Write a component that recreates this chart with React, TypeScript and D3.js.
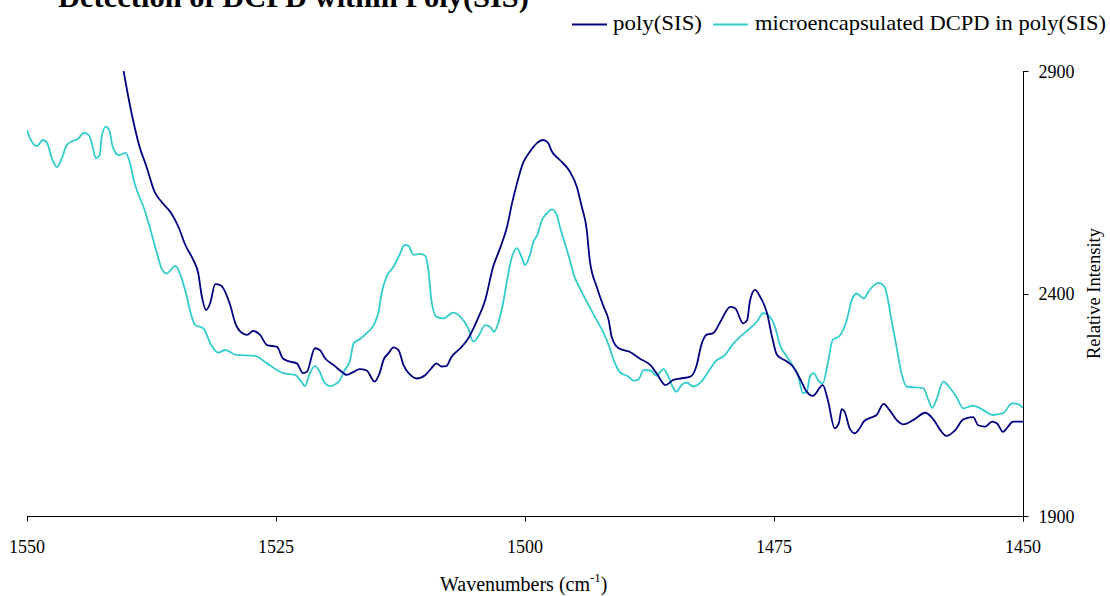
import React from "react";
import * as d3 from "d3";

const titleText = "Detection of DCPD within Poly(SIS)";
const seriesNames = ["poly(SIS)", "microencapsulated DCPD in poly(SIS)"];
const seriesColors = ["#000080", "#33CCCC"];
const xTicks = [1550, 1525, 1500, 1475, 1450];
const yTicks = [1900, 2400, 2900];

// poly(SIS)
const polyWave = [
  1540.3, 1539.7, 1538.7, 1538.0, 1537.2, 1536.5, 1535.5, 1534.8, 1534.1, 1533.3,
  1532.8, 1532.5, 1532.0, 1531.6, 1531.1, 1530.6, 1529.6, 1529.1, 1528.4, 1527.9,
  1527.3, 1526.6, 1525.9, 1524.9, 1524.3, 1523.6, 1522.9, 1522.3, 1521.9, 1521.1,
  1520.6, 1520.1, 1519.2, 1518.4, 1517.9, 1517.2, 1516.6, 1515.9, 1515.1, 1514.6,
  1514.2, 1513.7, 1513.2, 1512.7, 1512.2, 1511.5, 1510.9, 1510.0, 1509.4, 1508.9,
  1508.4, 1507.9, 1507.4, 1506.5, 1505.7, 1504.8, 1504.0, 1503.2, 1502.5, 1501.8,
  1501.3, 1500.8, 1500.2, 1499.5, 1498.8, 1498.2, 1497.7, 1497.3, 1496.5, 1495.5,
  1494.8, 1494.3, 1493.8, 1493.5, 1492.8, 1492.1, 1491.6, 1491.3, 1490.6, 1489.5,
  1488.5, 1487.4, 1486.8, 1485.9, 1485.1, 1484.4, 1483.4, 1482.8, 1482.3, 1481.8,
  1481.1, 1480.3, 1479.4, 1478.9, 1478.1, 1477.7, 1477.4, 1476.9, 1476.4, 1475.7,
  1475.2, 1474.7, 1473.7, 1473.1, 1472.4, 1471.7, 1471.1, 1470.1, 1469.6, 1468.9,
  1468.5, 1468.2, 1467.9, 1467.4, 1466.9, 1466.4, 1466.0, 1465.4, 1464.7, 1464.0,
  1463.4, 1462.7, 1462.0, 1461.0, 1459.8, 1459.0, 1458.3, 1457.7, 1456.8, 1456.0,
  1455.0, 1454.5, 1453.8, 1453.1, 1452.6, 1452.0, 1451.5, 1451.0, 1450.0,
];
const polyIntensity = [
  2900, 2827, 2730, 2685, 2629, 2606, 2580, 2550, 2509, 2475,
  2445, 2400, 2363, 2379, 2421, 2419, 2374, 2334, 2311, 2307,
  2316, 2307, 2284, 2280, 2254, 2247, 2243, 2221, 2224, 2277,
  2273, 2255, 2239, 2224, 2217, 2224, 2230, 2227, 2202, 2221,
  2251, 2266, 2279, 2273, 2239, 2217, 2209, 2217, 2232, 2243,
  2236, 2237, 2257, 2277, 2299, 2340, 2385, 2460, 2502, 2550,
  2603, 2648, 2693, 2719, 2738, 2745, 2739, 2719, 2700, 2674,
  2640, 2595, 2543, 2475, 2415, 2370, 2340, 2303, 2277, 2269,
  2254, 2239, 2221, 2194, 2206, 2209, 2213, 2236, 2284, 2307,
  2311, 2340, 2370, 2367, 2333, 2340, 2385, 2408, 2393, 2356,
  2303, 2262, 2247, 2236, 2209, 2179, 2170, 2194, 2161, 2097,
  2108, 2140, 2134, 2097, 2086, 2097, 2112, 2120, 2127, 2152,
  2138, 2116, 2106, 2116, 2132, 2117, 2093, 2080, 2093, 2117,
  2122, 2104, 2101, 2112, 2108, 2089, 2101, 2112, 2112,
];

// microencapsulated DCPD in poly(SIS)
const dcpdWave = [
  1550.0, 1549.7, 1549.0, 1548.4, 1548.0, 1547.5, 1547.0, 1546.5, 1546.0, 1545.4,
  1544.9, 1544.3, 1543.8, 1543.4, 1543.1, 1542.7, 1542.5, 1542.1, 1541.7, 1541.4,
  1540.8, 1540.1, 1539.7, 1539.2, 1538.2, 1537.5, 1537.0, 1536.5, 1536.0, 1535.1,
  1534.6, 1534.0, 1533.6, 1533.1, 1532.3, 1531.5, 1530.8, 1530.1, 1529.0, 1527.1,
  1525.9, 1524.3, 1523.1, 1522.4, 1522.1, 1521.6, 1521.1, 1520.6, 1520.2, 1519.6,
  1518.7, 1518.1, 1517.6, 1517.2, 1516.6, 1515.9, 1515.2, 1514.7, 1514.4, 1513.9,
  1513.2, 1512.6, 1512.1, 1511.7, 1511.2, 1510.5, 1510.0, 1509.7, 1509.4, 1508.9,
  1508.2, 1507.2, 1506.5, 1505.7, 1505.2, 1504.7, 1504.0, 1503.5, 1503.1, 1502.7,
  1502.2, 1501.8, 1501.3, 1500.8, 1500.3, 1500.0, 1499.5, 1499.2, 1498.7, 1498.3,
  1497.8, 1497.3, 1496.8, 1496.5, 1496.0, 1495.5, 1495.1, 1494.5, 1493.8, 1493.0,
  1492.1, 1491.6, 1491.1, 1490.5, 1489.6, 1489.1, 1488.6, 1488.1, 1487.4, 1486.8,
  1486.1, 1485.6, 1485.1, 1484.8, 1484.3, 1483.8, 1483.1, 1482.3, 1481.6, 1480.9,
  1479.9, 1479.2, 1478.4, 1477.6, 1476.7, 1476.1, 1475.6, 1474.9, 1474.4, 1473.7,
  1473.1, 1472.6, 1472.1, 1471.7, 1471.4, 1471.0, 1470.6, 1470.1, 1469.6, 1469.1,
  1468.4, 1467.7, 1467.2, 1466.7, 1466.0, 1465.4, 1464.5, 1463.9, 1463.2, 1462.7,
  1462.2, 1461.7, 1460.0, 1459.5, 1459.1, 1458.7, 1458.0, 1457.3, 1456.7, 1456.0,
  1455.0, 1454.0, 1453.0, 1452.0, 1451.1, 1450.6, 1450.0,
];
const dcpdIntensity = [
  2767, 2749, 2731, 2745, 2739, 2704, 2684, 2704, 2734, 2743,
  2747, 2761, 2756, 2730, 2704, 2711, 2752, 2775, 2764, 2730,
  2711, 2716, 2696, 2648, 2588, 2535, 2494, 2457, 2445, 2462,
  2442, 2397, 2359, 2329, 2322, 2284, 2267, 2273, 2262, 2260,
  2243, 2221, 2217, 2200, 2192, 2221, 2237, 2224, 2202, 2192,
  2202, 2228, 2247, 2288, 2297, 2311, 2329, 2359, 2400, 2438,
  2460, 2487, 2509, 2507, 2487, 2489, 2484, 2453, 2385, 2348,
  2344, 2357, 2348, 2322, 2292, 2303, 2329, 2325, 2314, 2333,
  2378, 2430, 2483, 2502, 2479, 2464, 2487, 2513, 2535, 2565,
  2580, 2589, 2576, 2550, 2513, 2475, 2442, 2412, 2382, 2348,
  2311, 2284, 2251, 2224, 2213, 2204, 2207, 2228, 2227, 2215,
  2230, 2213, 2187, 2179, 2194, 2200, 2191, 2202, 2224, 2247,
  2262, 2284, 2303, 2318, 2337, 2356, 2352, 2325, 2284, 2258,
  2237, 2217, 2176, 2179, 2213, 2221, 2206, 2198, 2243, 2296,
  2305, 2340, 2385, 2400, 2389, 2408, 2424, 2415, 2340, 2280,
  2221, 2191, 2187, 2161, 2143, 2161, 2202, 2187, 2168, 2142,
  2148, 2138, 2127, 2131, 2153, 2152, 2143,
];

const W = 1110;
const H = 596;
const FONT = "Liberation Serif";

const x = d3.scaleLinear().domain([1550, 1450]).range([27, 1023]);
const y = d3.scaleLinear().domain([1900, 2900]).range([516, 71]);

const lineGen = d3
  .line<[number, number]>()
  .x((d) => x(d[0]))
  .y((d) => y(d[1]))
  .curve(d3.curveMonotoneX);

const seriesData: [number, number][][] = [
  polyWave.map((w, i) => [w, polyIntensity[i]] as [number, number]),
  dcpdWave.map((w, i) => [w, dcpdIntensity[i]] as [number, number]),
];

const legendItems = [
  { x1: 572, x2: 607, tx: 613, tw: 89 },
  { x1: 713, x2: 748, tx: 755, tw: 351 },
];

export default function App() {
  const axisX = Math.round(x(1450)) + 0.5;
  const axisY = Math.round(y(1900)) + 0.5;
  const txtStyle = { fontFamily: FONT, fill: "#000" } as React.CSSProperties;
  return (
    <svg
      width={W}
      height={H}
      style={{ position: "absolute", left: 0, top: 0, display: "block", background: "#fff" }}
    >
      <defs>
        <clipPath id="plotclip">
          <rect x={x(1550)} y={y(2900)} width={x(1450) - x(1550)} height={y(1900) - y(2900)} />
        </clipPath>
      </defs>
      <g clipPath="url(#plotclip)">
        {[1, 0].map((k) => (
          <path
            key={k}
            d={lineGen(seriesData[k]) || ""}
            fill="none"
            stroke={seriesColors[k]}
            strokeWidth={1.8}
            strokeLinejoin="round"
          />
        ))}
      </g>

      {/* X axis */}
      <line x1={x(1550)} x2={x(1450)} y1={axisY} y2={axisY} stroke="#000" />
      {xTicks.map((t) => (
        <g key={t}>
          <line
            x1={Math.round(x(t)) + 0.5}
            x2={Math.round(x(t)) + 0.5}
            y1={axisY}
            y2={axisY + 5}
            stroke="#000"
          />
          <text x={x(t)} y={553} textAnchor="middle" style={{ ...txtStyle, fontSize: 18 }}>
            {t}
          </text>
        </g>
      ))}

      {/* Y axis (right) */}
      <line x1={axisX} x2={axisX} y1={y(2900)} y2={axisY + 5} stroke="#000" />
      {yTicks.map((t) => (
        <g key={t}>
          <line
            x1={axisX}
            x2={axisX + 5}
            y1={Math.round(y(t)) + 0.5}
            y2={Math.round(y(t)) + 0.5}
            stroke="#000"
          />
          <text x={axisX + 15} y={y(t) + 6.5} style={{ ...txtStyle, fontSize: 18 }}>
            {t}
          </text>
        </g>
      ))}

      {/* Axis titles */}
      <text x={440} y={591} style={{ ...txtStyle, fontSize: 20 }}>
        <tspan>Wavenumbers (cm</tspan>
        <tspan dy={-9} style={{ fontSize: 13 }}>-1</tspan>
        <tspan dy={9}>)</tspan>
      </text>
      <text
        transform={`translate(1100,${(y(2900) + y(1900)) / 2}) rotate(-90)`}
        textAnchor="middle"
        style={{ ...txtStyle, fontSize: 18.5 }}
      >
        Relative Intensity
      </text>

      {/* Title, partly cut off at the top as in the original */}
      <text
        x={58}
        y={7}
        textLength={471}
        lengthAdjust="spacingAndGlyphs"
        style={{ ...txtStyle, fontSize: 30, fontWeight: "bold" }}
      >
        {titleText}
      </text>

      {/* Legend */}
      {legendItems.map((it, i) => (
        <g key={i}>
          <line
            x1={it.x1}
            x2={it.x2}
            y1={24.5}
            y2={24.5}
            stroke={seriesColors[i]}
            strokeWidth={1.8}
          />
          <text
            x={it.tx}
            y={30}
            textLength={it.tw}
            lengthAdjust="spacingAndGlyphs"
            style={{ ...txtStyle, fontSize: 21 }}
          >
            {seriesNames[i]}
          </text>
        </g>
      ))}
    </svg>
  );
}
